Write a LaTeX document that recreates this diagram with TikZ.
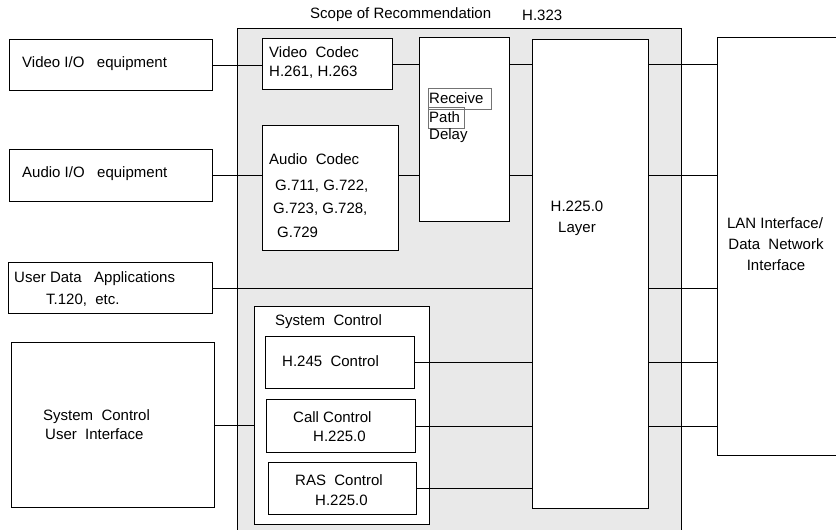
\documentclass[tikz,border=0pt]{standalone}
\usepackage{fontspec}
\setmainfont{Liberation Sans}
\begin{document}
\begin{tikzpicture}[x=1pt,y=-1pt,
  box/.style={draw=black,line width=1.1pt,fill=white,inner sep=0pt,anchor=north west},
  conn/.style={line width=1.1pt},
  txt/.style={inner sep=0pt,anchor=west,font=\fontsize{15}{18}\selectfont},
  ctxt/.style={inner sep=0pt,anchor=center,font=\fontsize{15}{18}\selectfont},
  tinybox/.style={draw=black!55,line width=0.8pt,inner sep=0pt,anchor=north west}]
\definecolor{scopegray}{RGB}{233,233,233}
\clip (0,0) rectangle (836,530);
\fill[white] (0,0) rectangle (836,530);
% scope region
\node[draw=black,line width=1.1pt,fill=scopegray,inner sep=0pt,anchor=north west,
      minimum width=444pt,minimum height=520pt] (scope) at (237,28) {};
\node[txt] (title) at (310,15) {Scope of Recommendation};
\node[txt] (titleh) at (522,15) {H.323};
% boxes
\node[box,minimum width=203pt,minimum height=51pt] (vio) at (9,39) {};
\node[box,minimum width=203pt,minimum height=52pt] (aio) at (9,149) {};
\node[box,minimum width=204pt,minimum height=51pt] (uda) at (8,262) {};
\node[box,minimum width=203pt,minimum height=165pt] (scui) at (11,342) {};
\node[box,minimum width=130pt,minimum height=51pt] (vcodec) at (262,38) {};
\node[box,minimum width=136pt,minimum height=125pt] (acodec) at (262,125) {};
\node[box,minimum width=90pt,minimum height=184pt] (rpd) at (419,37) {};
\node[box,minimum width=116pt,minimum height=469pt] (h225) at (532,39) {};
\node[box,minimum width=128pt,minimum height=418pt] (lan) at (717,37) {};
\node[box,minimum width=175pt,minimum height=218pt] (sysctl) at (254,306) {};
\node[box,minimum width=149pt,minimum height=52pt] (h245) at (265,336) {};
\node[box,minimum width=149pt,minimum height=53pt] (call) at (266,399) {};
\node[box,minimum width=148pt,minimum height=52pt] (ras) at (268,462) {};
% small boxes in receive path delay
\node[tinybox,minimum width=63pt,minimum height=21pt] (recbox) at (428,88) {};
\node[tinybox,minimum width=36pt,minimum height=21pt] (pathbox) at (428,107) {};
% connectors
\draw[conn] (vio.east) -- (vio.east -| vcodec.west);
\draw[conn] (aio.east) -- (aio.east -| acodec.west);
\draw[conn] (vcodec.east) -- (vcodec.east -| rpd.west);
\draw[conn] (acodec.east |- aio.east) -- (rpd.west |- aio.east);
\draw[conn] (rpd.east |- vcodec.east) -- (h225.west |- vcodec.east);
\draw[conn] (rpd.east |- aio.east) -- (h225.west |- aio.east);
\draw[conn] (uda.east) -- (uda.east -| h225.west);
\draw[conn] (scui.east) -- (scui.east -| sysctl.west);
\draw[conn] (h245.east) -- (h245.east -| h225.west);
\draw[conn] (call.east) -- (call.east -| h225.west);
\draw[conn] (ras.east) -- (ras.east -| h225.west);
\draw[conn] (h225.east |- vcodec.east) -- (lan.west |- vcodec.east);
\draw[conn] (h225.east |- aio.east) -- (lan.west |- aio.east);
\draw[conn] (h225.east |- uda.east) -- (lan.west |- uda.east);
\draw[conn] (h225.east |- h245.east) -- (lan.west |- h245.east);
\draw[conn] (h225.east |- call.east) -- (lan.west |- call.east);
% texts
\node[txt] (tvio) at (22,64) {Video I/O\ \ \ equipment};
\node[txt] (taio) at (22,174) {Audio I/O\ \ \ equipment};
\node[txt] (tvc1) at (269,52) {Video\ \ Codec};
\node[txt] (tvc2) at (269,72) {H.261, H.263};
\node[txt] (trec) at (429,98) {Receive};
\node[txt] (tpath) at (429,117) {Path};
\node[txt] (tdel) at (429,136) {Delay};
\node[txt] (tac1) at (269,159) {Audio\ \ Codec};
\node[txt] (tac2) at (275,186) {G.711, G.722,};
\node[txt] (tac3) at (273,209) {G.723, G.728,};
\node[txt] (tac4) at (277,232) {G.729};
\node[ctxt] (th1) at (577,206) {H.225.0};
\node[ctxt] (th2) at (577,229) {Layer};
\node[ctxt] (tl1) at (775,223) {LAN Interface/};
\node[ctxt] (tl2) at (776,244) {Data\ \ Network};
\node[ctxt] (tl3) at (776,265) {Interface};
\node[txt] (tu1) at (14,279) {User Data\ \ \ Applications};
\node[txt] (tu2) at (46,300) {T.120,\ \ etc.};
\node[txt] (ts1) at (43,417) {System\ \ Control};
\node[txt] (ts2) at (45,434) {User\ \ Interface};
\node[txt] (tsc) at (275,322) {System\ \ Control};
\node[txt] (th245) at (282,361) {H.245\ \ Control};
\node[txt] (tc1) at (293,417) {Call Control};
\node[txt] (tc2) at (313,436) {H.225.0};
\node[txt] (tr1) at (295,480) {RAS\ \ Control};
\node[txt] (tr2) at (315,500) {H.225.0};
\end{tikzpicture}
\end{document}
